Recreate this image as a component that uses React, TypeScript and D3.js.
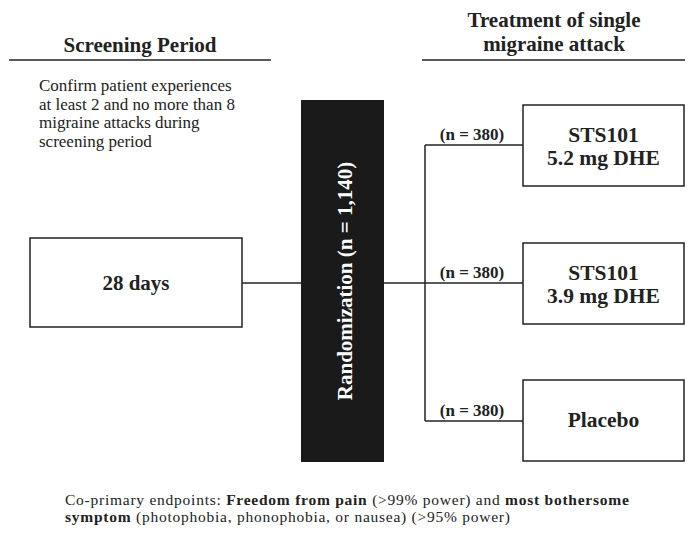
import React from 'react';
import * as d3 from 'd3';

// study design content
const screeningTitle = 'Screening Period';
const screeningNote = [
  'Confirm patient experiences',
  'at least 2 and no more than 8',
  'migraine attacks during',
  'screening period',
];
const treatmentTitle = ['Treatment of single', 'migraine attack'];
const screeningBox = '28 days';
const randomizedN = '1,140';
const armLabels = [
  ['STS101', '5.2 mg DHE'],
  ['STS101', '3.9 mg DHE'],
  ['Placebo'],
];
const armN = [380, 380, 380];

const W = 688;
const H = 533;
const FONT = "'Liberation Serif', 'Times New Roman', 'DejaVu Serif', serif";
const INK = '#222';

export default function App() {
  // branch positions for the three arms
  const yArm = d3
    .scalePoint<number>()
    .domain(armLabels.map((_, i) => i))
    .range([145, 421]);

  const midY = yArm(1) as number;
  const branchX = 425;
  const armBox = { x: 523, w: 161, h: 81 };
  const rand = { x: 301, y: 100, w: 83, h: 362 };
  const screen = { x: 30, y: 238, w: 212, h: 89 };

  return (
    <svg
      width={W}
      height={H}
      style={{ position: 'absolute', left: 0, top: 0, background: '#fff', fontFamily: FONT }}
    >
      {/* headers */}
      <text x={140} y={52} textAnchor="middle" fontSize={21} fontWeight="bold" fill={INK}>
        {screeningTitle}
      </text>
      <line x1={9} x2={271} y1={60} y2={60} stroke={INK} strokeWidth={1.5} />
      {treatmentTitle.map((t, i) => (
        <text key={t} x={554} y={27 + i * 24} textAnchor="middle" fontSize={21} fontWeight="bold" fill={INK}>
          {t}
        </text>
      ))}
      <line x1={422} x2={685} y1={60} y2={60} stroke={INK} strokeWidth={1.5} />

      {/* screening note */}
      {screeningNote.map((t, i) => (
        <text key={t} x={39} y={91 + i * 18.7} fontSize={17} fill={INK}>
          {t}
        </text>
      ))}

      {/* 28 days box */}
      <rect x={screen.x} y={screen.y} width={screen.w} height={screen.h} fill="#fff" stroke={INK} strokeWidth={1.5} />
      <text x={screen.x + screen.w / 2} y={290} textAnchor="middle" fontSize={21} fontWeight="bold" fill={INK}>
        {screeningBox}
      </text>
      <line x1={screen.x + screen.w} x2={rand.x} y1={midY} y2={midY} stroke={INK} strokeWidth={1.5} />

      {/* randomization bar */}
      <rect x={rand.x} y={rand.y} width={rand.w} height={rand.h} fill="#1a1a1a" />
      <text
        transform={`translate(${rand.x + rand.w / 2 + 9},${rand.y + rand.h / 2}) rotate(-90)`}
        textAnchor="middle"
        fontSize={21}
        fontWeight="bold"
        fill="#fff"
      >
        {`Randomization (n = ${randomizedN})`}
      </text>

      {/* branches */}
      <line x1={rand.x + rand.w} x2={branchX} y1={midY} y2={midY} stroke={INK} strokeWidth={1.5} />
      <line
        x1={branchX}
        x2={branchX}
        y1={yArm(0) as number}
        y2={yArm(armLabels.length - 1) as number}
        stroke={INK}
        strokeWidth={1.5}
      />
      {armLabels.map((lines, i) => {
        const y = yArm(i) as number;
        const top = i === 2 ? y - 41 : y - 40;
        return (
          <g key={i}>
            <line x1={branchX} x2={armBox.x} y1={y} y2={y} stroke={INK} strokeWidth={1.5} />
            <text x={472} y={y - 5} textAnchor="middle" fontSize={17} fontWeight="bold" fill={INK}>
              {`(n = ${armN[i]})`}
            </text>
            <rect x={armBox.x} y={top} width={armBox.w} height={armBox.h} fill="#fff" stroke={INK} strokeWidth={1.5} />
            {lines.map((t, j) => (
              <text
                key={t}
                x={armBox.x + armBox.w / 2}
                y={lines.length === 1 ? y + 6 : y - 3 + j * 22.5}
                textAnchor="middle"
                fontSize={21.5}
                fontWeight="bold"
                fill={INK}
              >
                {t}
              </text>
            ))}
          </g>
        );
      })}

      {/* footnote */}
      <text x={65} y={505} fontSize={15.5} letterSpacing={0.75} fill={INK}>
        Co-primary endpoints: <tspan fontWeight="bold">Freedom from pain</tspan> (&gt;99% power) and{' '}
        <tspan fontWeight="bold">most bothersome</tspan>
      </text>
      <text x={65} y={522} fontSize={15.5} letterSpacing={0.75} fill={INK}>
        <tspan fontWeight="bold">symptom</tspan> (photophobia, phonophobia, or nausea) (&gt;95% power)
      </text>
    </svg>
  );
}
